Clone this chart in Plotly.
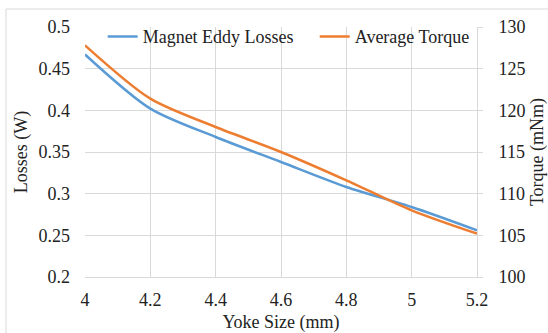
import plotly.graph_objects as go

yoke_size = [4.0, 4.2, 4.4, 4.6, 4.8, 5.0, 5.2]
eddy_losses = [0.467, 0.402, 0.368, 0.338, 0.308, 0.284, 0.256]
avg_torque = [127.8, 121.4, 118.0, 115.0, 111.6, 108.0, 105.2]

FONT = "Liberation Serif"
GRID = "#d9d9d9"
INK = "#222222"
FS = 18

fig = go.Figure()
fig.add_trace(go.Scatter(
    x=yoke_size, y=eddy_losses, name="Magnet Eddy Losses", legend="legend",
    mode="lines", line=dict(color="#5b9bd5", width=2.5, shape="spline", smoothing=0.8),
))
fig.add_trace(go.Scatter(
    x=yoke_size, y=avg_torque, name="Average Torque", yaxis="y2", legend="legend2",
    mode="lines", line=dict(color="#ed7d31", width=2.5, shape="spline", smoothing=0.8),
))

legend_style = dict(
    orientation="h", y=1.035, xanchor="left", yanchor="top",
    bgcolor="rgba(0,0,0,0)", font=dict(family=FONT, size=FS, color=INK),
    itemwidth=30,
)

fig.update_layout(
    width=548, height=333,
    margin=dict(l=85, r=71, t=27, b=56, autoexpand=False),
    paper_bgcolor="white", plot_bgcolor="white",
    font=dict(family=FONT, size=FS, color=INK),
    showlegend=True,
    legend=dict(x=0.045, **legend_style),
    legend2=dict(x=0.586, **legend_style),
    xaxis=dict(
        range=[4, 5.2], dtick=0.2, tick0=4, showgrid=True, gridcolor=GRID,
        zeroline=False, showline=True, linecolor=GRID, ticks="", automargin=False,
        tickfont=dict(family=FONT, size=FS, color=INK), ticklabelstandoff=6,
        title=dict(text="Yoke Size (mm)", font=dict(family=FONT, size=FS, color=INK), standoff=8),
    ),
    yaxis=dict(
        range=[0.2, 0.5], dtick=0.05, showgrid=True, gridcolor=GRID,
        zeroline=False, showline=False, ticks="", automargin=False,
        tickfont=dict(family=FONT, size=FS, color=INK), tickformat="~g", ticklabelstandoff=14,
        title=dict(text="Losses (W)", font=dict(family=FONT, size=FS, color=INK), standoff=6),
    ),
    yaxis2=dict(
        range=[100, 130], dtick=5, overlaying="y", side="right", showgrid=False,
        zeroline=False, showline=True, linecolor=GRID, ticks="outside", automargin=False,
        ticklen=5, tickcolor=GRID,
        tickfont=dict(family=FONT, size=FS, color=INK), ticklabelstandoff=12,
        title=dict(text="Torque (mNm)", font=dict(family=FONT, size=FS, color=INK), standoff=5),
    ),
    shapes=[dict(
        type="rect", xref="paper", yref="paper",
        x0=(6 - 85) / 392, x1=(560 - 85) / 392,
        y0=(277 - 345) / 250, y1=(277 - 9) / 250,
        line=dict(color="#d9d9d9", width=1), fillcolor="rgba(0,0,0,0)", layer="below",
    )],
)

fig.write_html("out.html")
